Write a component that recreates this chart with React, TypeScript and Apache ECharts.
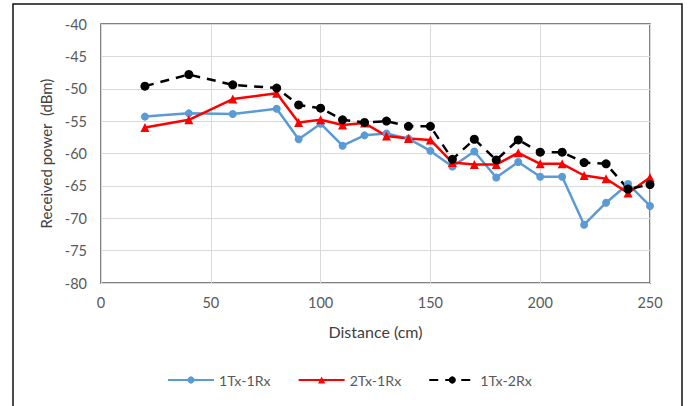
import React, { useEffect, useRef } from "react";
import * as echarts from "echarts";

const distances = [20, 40, 60, 80, 90, 100, 110, 120, 130, 140, 150, 160, 170, 180, 190, 200, 210, 220, 230, 240, 250];
const tx1rx1 = [-54.3, -53.8, -53.9, -53.1, -57.8, -55.4, -58.8, -57.2, -56.9, -57.7, -59.6, -62.0, -59.7, -63.7, -61.3, -63.6, -63.6, -71.0, -67.6, -64.7, -68.1];
const tx2rx1 = [-56.0, -54.8, -51.6, -50.7, -55.2, -54.8, -55.6, -55.3, -57.3, -57.7, -57.9, -61.4, -61.7, -61.7, -59.9, -61.6, -61.6, -63.4, -63.9, -66.1, -63.7];
const tx1rx2 = [-49.6, -47.8, -49.4, -49.9, -52.5, -53.0, -54.8, -55.2, -55.0, -55.8, -55.8, -60.9, -57.8, -61.0, -57.9, -59.8, -59.8, -61.4, -61.6, -65.5, -64.8];
const seriesNames = ["1Tx-1Rx", "2Tx-1Rx", "1Tx-2Rx"];

const FONT = "Lato";
const TEXT = "#595959";

export default function App() {
  const ref = useRef<HTMLDivElement>(null);
  useEffect(() => {
    if (!ref.current) return;
    const chart = echarts.init(ref.current, undefined, { renderer: "svg" });
    const pair = (ys: number[]) => distances.map((d, i) => [d, ys[i]]);
    chart.setOption({
      animation: false,
      backgroundColor: "#ffffff",
      textStyle: { fontFamily: FONT, color: TEXT },
      grid: {
        left: 101,
        top: 24,
        right: 38,
        bottom: 123,
        show: true,
        borderColor: "#595959",
        borderWidth: 1.5,
      },
      graphic: [
        {
          type: "rect",
          shape: { x: 13, y: 4, width: 669, height: 430 },
          style: { fill: "none", stroke: "#111111", lineWidth: 1.5 },
          silent: true,
        },
      ],
      legend: {
        bottom: 14,
        left: 162,
        itemWidth: 46,
        itemHeight: 9,
        itemGap: 27,
        textStyle: { fontFamily: FONT, fontSize: 14.2, color: TEXT },
        data: seriesNames,
      },
      xAxis: {
        type: "value",
        min: 0,
        max: 250,
        interval: 50,
        name: "Distance (cm)",
        nameLocation: "middle",
        nameGap: 40,
        nameTextStyle: { fontFamily: FONT, fontSize: 16, color: "#404040" },
        axisLine: { show: false },
        axisTick: { show: false },
        axisLabel: { fontFamily: FONT, fontSize: 14.5, color: TEXT, margin: 12 },
        splitLine: { show: true, lineStyle: { color: "#d9d9d9", width: 1 } },
      },
      yAxis: {
        type: "value",
        min: -80,
        max: -40,
        interval: 5,
        name: "Received power  (dBm)",
        nameLocation: "middle",
        nameGap: 47,
        nameTextStyle: { fontFamily: FONT, fontSize: 15, color: "#404040" },
        axisLine: { show: false },
        axisTick: { show: false },
        axisLabel: { fontFamily: FONT, fontSize: 14.5, color: TEXT, margin: 14 },
        splitLine: { show: true, lineStyle: { color: "#d9d9d9", width: 1 } },
      },
      series: [
        {
          name: seriesNames[0],
          type: "line",
          data: pair(tx1rx1),
          symbol: "circle",
          symbolSize: 8,
          color: "#5B9BD5",
          lineStyle: { color: "#5B9BD5", width: 2.5 },
          itemStyle: { color: "#5B9BD5" },
        },
        {
          name: seriesNames[1],
          type: "line",
          data: pair(tx2rx1),
          symbol: "triangle",
          symbolSize: 9,
          color: "#FF0000",
          lineStyle: { color: "#FF0000", width: 2.5 },
          itemStyle: { color: "#FF0000" },
        },
        {
          name: seriesNames[2],
          type: "line",
          data: pair(tx1rx2),
          symbol: "circle",
          symbolSize: 9,
          color: "#000000",
          lineStyle: { color: "#000000", width: 2.5, type: [9, 7] },
          itemStyle: { color: "#000000" },
        },
      ],
    });
    return () => chart.dispose();
  }, []);
  return (
    <div
      ref={ref}
      style={{ position: "fixed", left: 0, top: 0, width: 688, height: 406 }}
    />
  );
}
